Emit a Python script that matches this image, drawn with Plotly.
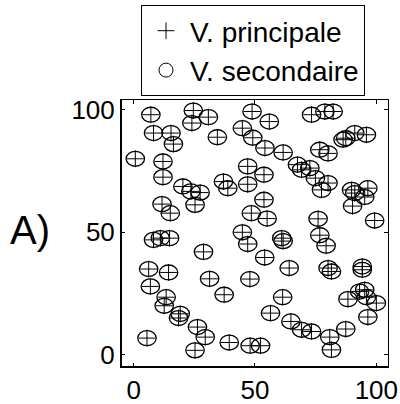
import plotly.graph_objects as go

# Data
x_vals = [7.1, 24.6, 30.8, 24.0, 48.8, 8.2, 15.4, 16.4, 34.5, 44.8,
          49.1, 0.7, 12.1, 47.0, 55.9, 54.1, 61.6, 73.3, 78.8, 82.2,
          87.4, 91.1, 95.9, 86.3, 76.7, 80.1, 67.5, 69.2, 72.6, 74.9,
          80.1, 77.4, 53.7, 12.1, 20.3, 23.6, 27.4, 25.3, 37.0, 38.8,
          47.0, 11.7, 15.1, 48.5, 89.8, 91.1, 96.5, 95.2, 90.2, 53.7,
          55.0, 76.0, 99.3, 11.0, 8.2, 14.8, 44.8, 47.0, 28.8, 6.2,
          14.4, 31.3, 47.9, 6.9, 37.3, 13.4, 12.6, 19.2, 18.5, 26.3,
          5.5, 29.5, 25.3, 39.4, 48.0, 52.3, 61.0, 61.6, 76.7, 79.3,
          54.0, 64.1, 80.1, 81.5, 94.2, 94.2, 61.4, 88.3, 93.1, 95.2,
          95.9, 100.0, 96.5, 56.4, 64.8, 69.2, 73.3, 87.4, 80.8, 81.5]
y_vals = [98.0, 99.7, 97.0, 94.6, 99.3, 90.5, 90.5, 86.0, 88.8, 92.5,
          88.6, 80.0, 78.9, 76.9, 95.2, 84.4, 82.6, 98.0, 99.3, 99.3,
          88.4, 90.5, 89.8, 87.8, 83.7, 82.2, 77.6, 75.5, 76.2, 72.1,
          70.1, 67.3, 73.5, 72.5, 68.7, 66.7, 66.2, 61.2, 70.7, 68.0,
          69.6, 61.5, 57.8, 57.8, 67.3, 66.0, 68.0, 64.4, 60.7, 63.3,
          55.6, 55.5, 54.8, 47.6, 46.9, 47.6, 50.0, 45.2, 42.0, 35.0,
          33.6, 31.0, 30.9, 27.9, 24.5, 23.5, 20.0, 16.7, 15.0, 11.3,
          6.8, 7.2, 1.8, 5.0, 3.7, 3.7, 47.6, 46.4, 48.8, 44.5,
          39.7, 35.4, 35.4, 34.0, 36.0, 34.7, 23.5, 22.7, 25.8, 26.5,
          23.5, 21.1, 15.4, 17.0, 13.6, 10.2, 9.5, 10.5, 7.2, 2.0]
tick_vals = [0, 50, 100]
tick_text = ["0", "50", "100"]
series_names = ["V. principale", "V. secondaire"]
panel_label = "A)"

FONT = "Liberation Sans, Arial, sans-serif"
RX, RY = 3.8, 3.05  # ellipse half-axes in data units

fig = go.Figure()
fig.add_trace(go.Scatter(
    x=x_vals, y=y_vals, mode="markers", name=series_names[0],
    marker=dict(symbol="cross-thin-open", size=12, color="black",
                line=dict(color="black", width=1)),
    hoverinfo="skip"))
fig.add_trace(go.Scatter(
    x=[None], y=[None], mode="markers", name=series_names[1],
    marker=dict(symbol="circle-open", size=14, color="black",
                line=dict(color="black", width=1))))

for xv, yv in zip(x_vals, y_vals):
    fig.add_shape(type="circle", xref="x", yref="y",
                  x0=xv - RX, x1=xv + RX, y0=yv - RY, y1=yv + RY,
                  line=dict(color="black", width=1.3))

# thicker left/bottom frame
fig.add_shape(type="line", xref="paper", yref="paper", x0=0, x1=0, y0=0, y1=1,
              line=dict(color="black", width=2))
fig.add_shape(type="line", xref="paper", yref="paper", x0=0, x1=1, y0=0, y1=0,
              line=dict(color="black", width=2))

axis_common = dict(showline=True, linecolor="black", linewidth=1, mirror="ticks",
                   ticks="inside", ticklen=4, tickcolor="black",
                   tickvals=tick_vals, ticktext=tick_text,
                   showgrid=False, zeroline=False, automargin=False,
                   tickfont=dict(family=FONT, size=26, color="black"))

fig.update_layout(
    width=400, height=404,
    margin=dict(l=121, r=12, t=100, b=37, autoexpand=False),
    paper_bgcolor="white", plot_bgcolor="white",
    xaxis=dict(range=[-5.2, 104.8], **axis_common),
    yaxis=dict(range=[-5, 104], **axis_common),
    showlegend=True,
    legend=dict(x=(141 - 121) / 267, y=(367 - 5) / 267, xanchor="left", yanchor="top",
                bgcolor="white", bordercolor="black", borderwidth=1,
                font=dict(family=FONT, size=28, color="black"),
                itemwidth=38),
    annotations=[dict(text=panel_label, xref="paper", yref="paper",
                      x=(30 - 121) / 267, y=(367 - 230) / 267,
                      xanchor="center", yanchor="middle", showarrow=False,
                      font=dict(family=FONT, size=40, color="black"))],
)

fig.write_html("out.html")
